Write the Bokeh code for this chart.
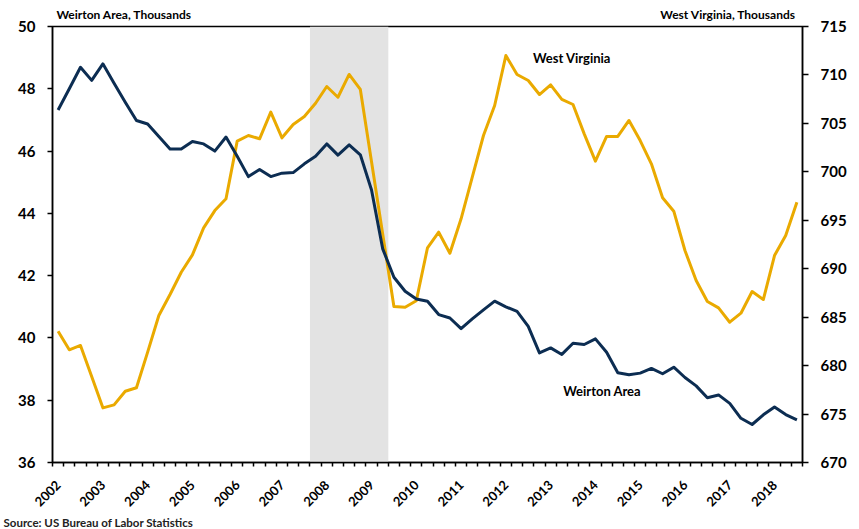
import math
from bokeh.plotting import figure
from bokeh.models import Range1d, LinearAxis, FixedTicker, Label, BoxAnnotation, Title
from bokeh.embed import file_html
from bokeh.resources import INLINE

# ---- data (quarterly, 2002Q1 .. 2018Q3) ----
years = list(range(2002, 2019))
quarters = [f"{y}Q{q}" for y in years for q in range(1, 5)][:67]

weirton = [47.32, 48.00, 48.69, 48.27, 48.80, 48.18, 47.57, 46.98, 46.87, 46.47,
           46.07, 46.07, 46.31, 46.23, 46.00, 46.45, 45.83, 45.18, 45.41, 45.18,
           45.29, 45.31, 45.59, 45.83, 46.23, 45.87, 46.20, 45.88, 44.75, 42.86,
           41.95, 41.50, 41.25, 41.18, 40.75, 40.64, 40.30, 40.61, 40.90, 41.18,
           41.00, 40.85, 40.37, 39.52, 39.68, 39.47, 39.83, 39.79, 39.97, 39.54,
           38.88, 38.82, 38.87, 39.02, 38.85, 39.06, 38.73, 38.46, 38.08, 38.17,
           37.90, 37.42, 37.22, 37.53, 37.78, 37.54, 37.37]

west_virginia = [683.55, 681.63, 682.08, 678.88, 675.64, 675.95, 677.36, 677.71, 681.39, 685.17,
                 687.34, 689.64, 691.43, 694.22, 696.00, 697.22, 703.17, 703.75, 703.41, 706.16,
                 703.51, 704.89, 705.71, 707.08, 708.81, 707.70, 710.05, 708.50, 701.04, 693.56,
                 686.10, 686.03, 686.70, 692.16, 693.77, 691.60, 695.15, 699.45, 703.75, 706.85,
                 712.00, 710.05, 709.43, 707.98, 708.98, 707.47, 706.95, 703.92, 701.10, 703.65,
                 703.65, 705.30, 703.23, 700.83, 697.32, 695.94, 691.88, 688.78, 686.62, 685.96,
                 684.48, 685.41, 687.65, 686.82, 691.36, 693.43, 696.87]

recession = ("2007Q4", "2009Q2")
left_ticks = [36, 38, 40, 42, 44, 46, 48, 50]
right_ticks = [670, 675, 680, 685, 690, 695, 700, 705, 710, 715]
year_labels = [str(y) for y in years]
axis_titles = ["Weirton Area, Thousands", "West Virginia, Thousands"]

NAVY = "#0C2D52"
GOLD = "#EAAA00"
FONT = "Lato"

x = list(range(len(quarters)))
n = len(quarters)

p = figure(width=859, height=529, output_backend="svg", toolbar_location=None,
           x_range=Range1d(-0.5, n - 0.5), y_range=Range1d(left_ticks[0], left_ticks[-1]),
           min_border_left=52, min_border_right=57, min_border_top=26, min_border_bottom=67)
p.extra_y_ranges = {"wv": Range1d(right_ticks[0], right_ticks[-1])}

p.xgrid.visible = False
p.ygrid.visible = False
p.outline_line_color = "black"
p.outline_line_width = 1.5
p.background_fill_color = "white"
p.border_fill_color = "white"

# recession shading
r0 = quarters.index(recession[0])
r1 = quarters.index(recession[1])
p.add_layout(BoxAnnotation(left=r0 - 0.5, right=r1 + 0.5, fill_color="#E3E3E3",
                           fill_alpha=1.0, line_color=None, level="underlay"))

p.line(x, west_virginia, y_range_name="wv", line_color=GOLD, line_width=3, line_join="round")
p.line(x, weirton, line_color=NAVY, line_width=3, line_join="round")

# x axis
year_idx = [quarters.index(f"{y}Q1") for y in years]
xa = p.xaxis[0]
xa.ticker = FixedTicker(ticks=year_idx, minor_ticks=[i - 0.5 for i in range(n + 1)])
xa.major_label_overrides = {i: lab for i, lab in zip(year_idx, year_labels)}
xa.major_label_orientation = math.pi / 4
xa.major_tick_line_color = None
xa.major_tick_out = 0
xa.major_tick_in = 0
xa.minor_tick_out = 4
xa.minor_tick_in = 0
xa.minor_tick_line_color = "black"
xa.minor_tick_line_width = 1.5
xa.axis_line_width = 1.5
xa.axis_line_color = "black"
xa.major_label_text_font = FONT
xa.major_label_text_font_style = "bold"
xa.major_label_text_font_size = "13px"
xa.major_label_text_color = "black"
xa.major_label_standoff = 16

# top "axis" carrying the two axis titles above the frame
title_pos = [5.9, 59.85]
ta = LinearAxis(ticker=FixedTicker(ticks=title_pos, minor_ticks=[]),
                major_label_overrides={t: s for t, s in zip(title_pos, axis_titles)})
ta.axis_line_color = None
ta.major_tick_line_color = None
ta.minor_tick_line_color = None
ta.major_tick_out = 0
ta.major_tick_in = 0
ta.major_label_standoff = 5
ta.major_label_text_font = FONT
ta.major_label_text_font_style = "bold"
ta.major_label_text_font_size = "12px"
ta.major_label_text_color = "black"
p.add_layout(ta, "above")

# left axis
ya = p.yaxis[0]
ya.ticker = FixedTicker(ticks=left_ticks)
ya.major_tick_out = 5
ya.major_tick_in = 0
ya.minor_tick_out = 0
ya.minor_tick_in = 0
ya.axis_line_width = 1.5
ya.major_tick_line_width = 1.5
ya.major_label_text_font = FONT
ya.major_label_text_font_style = "bold"
ya.major_label_text_font_size = "15px"
ya.major_label_text_color = "black"
ya.major_label_standoff = 12

# right axis
ra = LinearAxis(y_range_name="wv", ticker=FixedTicker(ticks=right_ticks))
ra.major_tick_out = 6
ra.major_tick_in = 0
ra.minor_tick_out = 0
ra.minor_tick_in = 0
ra.axis_line_width = 1.5
ra.major_tick_line_width = 1.5
ra.major_label_text_font = FONT
ra.major_label_text_font_style = "bold"
ra.major_label_text_font_size = "15px"
ra.major_label_text_color = "black"
ra.major_label_standoff = 12
p.add_layout(ra, "right")

# series labels
p.add_layout(Label(x=45.9, y=711.7, y_range_name="wv", text="West Virginia",
                   text_font=FONT, text_font_style="bold", text_font_size="13px",
                   text_align="center", text_baseline="middle", text_color="black"))
p.add_layout(Label(x=48.6, y=38.31, text="Weirton Area",
                   text_font=FONT, text_font_style="bold", text_font_size="13px",
                   text_align="center", text_baseline="middle", text_color="black"))

# source line below the x axis
p.add_layout(Title(text="Source: US Bureau of Labor Statistics", align="left", offset=-49,
                   standoff=0, text_font=FONT, text_font_style="bold",
                   text_font_size="11.5px", text_color="#222222"), "below")

open("out.html", "w").write(file_html(p, INLINE))
